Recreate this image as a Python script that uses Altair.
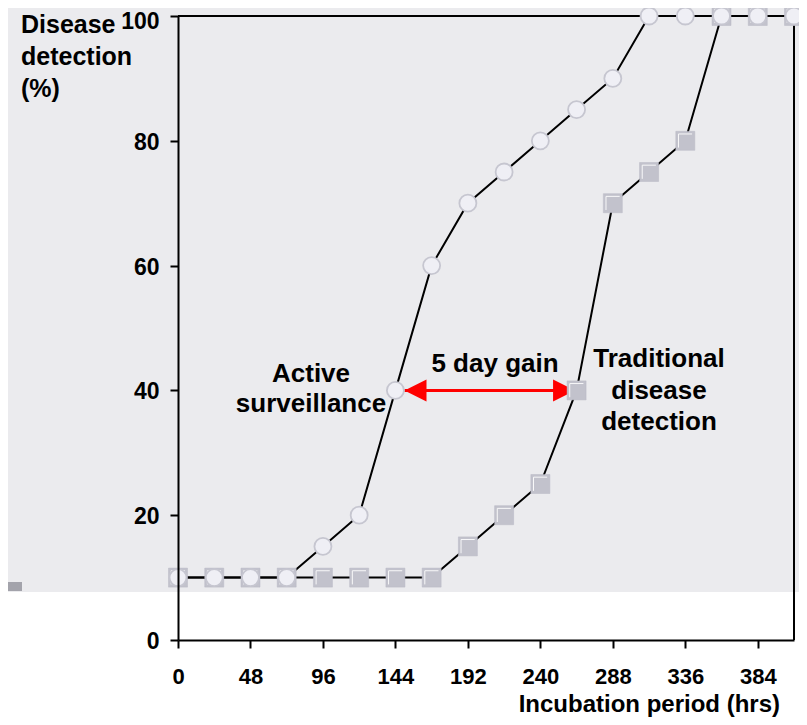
import altair as alt
import pandas as pd

# ---- data ----
hours = [0, 24, 48, 72, 96, 120, 144, 168, 192, 216, 240, 264, 288, 312, 336, 360, 384, 408]
active = [10, 10, 10, 10, 15, 20, 40, 60, 70, 75, 80, 85, 90, 100, 100, 100, 100, 100]
traditional = [10, 10, 10, 10, 10, 10, 10, 10, 15, 20, 25, 40, 70, 75, 80, 100, 100, 100]

x_ticks = list(range(0, 409, 24))
y_ticks = [0, 20, 40, 60, 80, 100]

arrow_start = 150
arrow_end = 263
arrow_level = 40

FONT = "Liberation Sans"

df_a = pd.DataFrame({"hours": hours, "pct": active})
df_t = pd.DataFrame({"hours": hours, "pct": traditional})
one = pd.DataFrame({"k": [0]})
df_arrow = pd.DataFrame({"x1": [arrow_start], "x2": [arrow_end], "y": [arrow_level]})

xs = alt.Scale(domain=[0, 408], nice=False, zero=True)
ys = alt.Scale(domain=[0, 100], nice=False)

axis_style = dict(domainColor="black", domainWidth=2, tickColor="black", tickWidth=2, tickSize=8,
                  labelFont=FONT, labelFontWeight="bold", labelColor="black",
                  grid=False, zindex=2)
x_axis = alt.Axis(values=x_ticks, labelExpr="datum.value % 48 == 0 ? datum.label : ''",
                  labelPadding=18, labelFontSize=22, labelFlush=False, labelOverlap=False,
                  **axis_style)
y_axis = alt.Axis(values=y_ticks, labelPadding=11, labelFontSize=23,
                  labelOffset={"condition": {"test": "datum.value == 100", "value": 5}, "value": 1.5},
                  **axis_style)

X = alt.X("hours:Q", scale=xs, axis=x_axis, title=None)
Y = alt.Y("pct:Q", scale=ys, axis=y_axis, title=None)

# white lower band (page background below the grey slide area)
white_band = alt.Chart(one).mark_rect(color="white").encode(
    x=alt.value(-170), x2=alt.value(621), y=alt.value(576), y2=alt.value(701))
dark_bar = alt.Chart(one).mark_rect(color="#a3a3ab").encode(
    x=alt.value(-170), x2=alt.value(-156), y=alt.value(566), y2=alt.value(575))

# box borders (top and right)
top_border = alt.Chart(one).mark_rule(color="black", strokeWidth=2).encode(
    x=alt.datum(0, scale=xs), x2=alt.datum(408), y=alt.datum(100, scale=ys))
right_border = alt.Chart(one).mark_rule(color="black", strokeWidth=2).encode(
    x=alt.datum(408, scale=xs), y=alt.datum(0, scale=ys), y2=alt.datum(100))

# red double arrow
arrow_line = alt.Chart(df_arrow).mark_rule(color="#ff0000", strokeWidth=3).encode(
    x=alt.X("x1:Q", scale=xs), x2="x2:Q", y=alt.Y("y:Q", scale=ys))
head_left = alt.Chart(df_arrow).mark_point(
    shape="M-1,0L1,-1L1,1Z", filled=True, color="#ff0000", size=484, opacity=1, xOffset=11
).encode(x=alt.X("x1:Q", scale=xs), y=alt.Y("y:Q", scale=ys))
head_right = alt.Chart(df_arrow).mark_point(
    shape="M1,0L-1,-1L-1,1Z", filled=True, color="#ff0000", size=484, opacity=1, xOffset=-11
).encode(x=alt.X("x2:Q", scale=xs), y=alt.Y("y:Q", scale=ys))

line_t = alt.Chart(df_t).mark_line(color="black", strokeWidth=2).encode(x=X, y=Y)
line_a = alt.Chart(df_a).mark_line(color="black", strokeWidth=2).encode(x=X, y=Y)

squares = alt.Chart(df_t).mark_point(
    shape="square", filled=True, fill="#c2c2cc", stroke="#b8b8c4", strokeWidth=0.5,
    size=361, opacity=1).encode(x=X, y=Y)
square_hl = alt.Chart(df_t).mark_point(
    shape="M-0.72,0.72L-0.72,-0.72L0.72,-0.72", filled=False, color="white",
    strokeWidth=1, size=361, opacity=0.9).encode(x=X, y=Y)
circles = alt.Chart(df_a).mark_point(
    shape="circle", filled=True, fill="#efeff5", stroke="#c6c6d0", strokeWidth=1.8,
    size=290, opacity=1, strokeOpacity=1).encode(x=X, y=Y)

def label(lines, px, py, size=26, align="center", lh=31):
    return alt.Chart(one).mark_text(
        text=lines, font=FONT, fontWeight="bold", fontSize=size, color="black",
        align=align, baseline="alphabetic", lineHeight=lh
    ).encode(x=alt.value(px), y=alt.value(py))

t_active = label(["Active", "surveillance"], 133, 366, lh=30)
t_gain = label(["5 day gain"], 317, 356)
t_trad = label(["Traditional", "disease", "detection"], 481, 351, lh=31.5)
t_ytitle = label(["Disease", "detection", "(%)"], -157, 17, size=25, align="left", lh=32)
t_xtitle = label(["Incubation period (hrs)"], 602, 695.5, size=24, align="right")

chart = alt.layer(
    white_band, dark_bar, top_border, right_border,
    arrow_line, head_left, head_right,
    line_t, line_a, squares, square_hl, circles,
    t_active, t_gain, t_trad, t_ytitle, t_xtitle
).properties(
    width=616, height=624,
    autosize=alt.AutoSizeParams(type="none"),
    padding={"left": 170, "top": 8, "right": 5, "bottom": 77},
).configure(
    background="#ebebee"
).configure_view(
    stroke="transparent"
)

chart.save("out.html", embed_options={"renderer": "svg", "actions": False})
